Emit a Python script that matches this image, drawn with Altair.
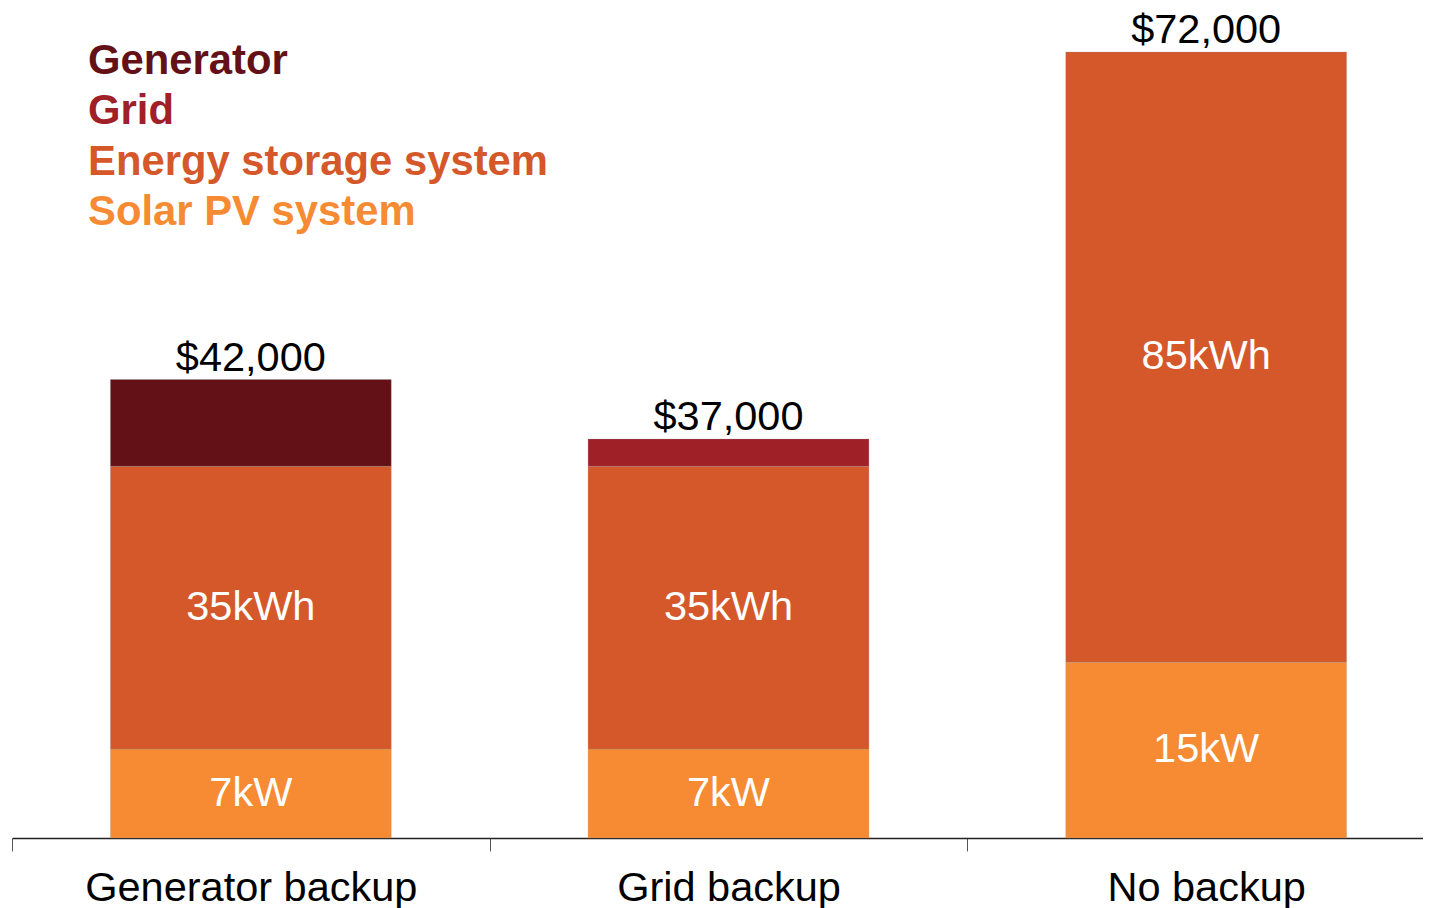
import altair as alt
import pandas as pd

FONT = "Liberation Sans, Arial, Helvetica, sans-serif"

scenarios = ["Generator backup", "Grid backup", "No backup"]
solar_cost = [8150, 8150, 16100]
storage_cost = [25900, 25900, 55900]
grid_cost = [0, 2500, 0]
generator_cost = [7950, 0, 0]
solar_labels = ["7kW", "7kW", "15kW"]
storage_labels = ["35kWh", "35kWh", "85kWh"]
total_labels = ["$42,000", "$37,000", "$72,000"]

legend_order = ["Generator", "Grid", "Energy storage system", "Solar PV system"]
legend_colors = ["#631117", "#A02028", "#D4582A", "#F68B33"]

# build stacked segments
rows = []
totals = []
for i, sc in enumerate(scenarios):
    start = 0
    parts = [
        ("Solar PV system", solar_cost[i], solar_labels[i]),
        ("Energy storage system", storage_cost[i], storage_labels[i]),
        ("Grid", grid_cost[i], ""),
        ("Generator", generator_cost[i], ""),
    ]
    for comp, val, lab in parts:
        if val <= 0:
            continue
        rows.append({"scenario": sc, "component": comp, "start": start,
                     "end": start + val, "mid": start + val / 2, "label": lab})
        start += val
    totals.append({"scenario": sc, "top": start, "label": total_labels[i]})

seg = pd.DataFrame(rows)
tot = pd.DataFrame(totals)
leg = pd.DataFrame({"component": legend_order})

color_scale = alt.Scale(domain=legend_order, range=legend_colors)

x_axis = alt.Axis(
    title=None, labelAngle=0, tickBand="extent", labelFontSize=41.5,
    labelFont=FONT, labelColor="#000000", labelPadding=16, tickSize=13,
    tickColor="#555555", tickWidth=1, domainColor="#222222", domainWidth=1.5,
    grid=False, labelLimit=0,
)
x_enc = alt.X(
    "scenario:N",
    sort=scenarios,
    scale=alt.Scale(domain=scenarios, range=[0, 1433], paddingInner=0, paddingOuter=0),
    axis=x_axis,
)
y_scale = alt.Scale(domain=[0, 72000], nice=False, zero=True)

bars = alt.Chart(seg).mark_bar(
    width={"band": 0.588}, stroke="#9a9a9a", strokeWidth=1, strokeOpacity=0.25
).encode(
    x=x_enc,
    y=alt.Y("start:Q", scale=y_scale, axis=None),
    y2="end:Q",
    color=alt.Color("component:N", scale=color_scale, legend=None),
)

seg_labels = alt.Chart(seg).transform_filter("datum.label != ''").mark_text(
    color="white", fontSize=41.5, font=FONT, baseline="middle", align="center"
).encode(
    x=x_enc,
    y=alt.Y("mid:Q", scale=y_scale, axis=None),
    text="label:N",
)

total_text = alt.Chart(tot).mark_text(
    color="black", fontSize=41.5, font=FONT, baseline="alphabetic", align="center", dy=-9
).encode(
    x=x_enc,
    y=alt.Y("top:Q", scale=y_scale, axis=None),
    text="label:N",
)

legend_text = alt.Chart(leg).mark_text(
    align="left", baseline="middle", fontSize=41.8, fontWeight="bold", font=FONT
).encode(
    x=alt.value(76),
    y=alt.Y("component:N", sort=legend_order,
            scale=alt.Scale(domain=legend_order, range=[8.5, 160], padding=0),
            axis=None),
    color=alt.Color("component:N", scale=color_scale, legend=None),
    text="component:N",
)

chart = alt.layer(bars, seg_labels, total_text, legend_text).resolve_scale(
    y="independent"
).properties(
    width=1411,
    height=786,
    padding={"left": 4, "top": 44, "right": 0, "bottom": 70},
    autosize=alt.AutoSizeParams(type="none"),
    view=alt.ViewBackground(stroke="transparent", strokeWidth=0, fill="white"),
).configure_view(stroke="transparent", strokeWidth=0).configure_axis(
    grid=False
).configure(background="white")

chart.save("out.html", embed_options={"renderer": "svg", "actions": False})
